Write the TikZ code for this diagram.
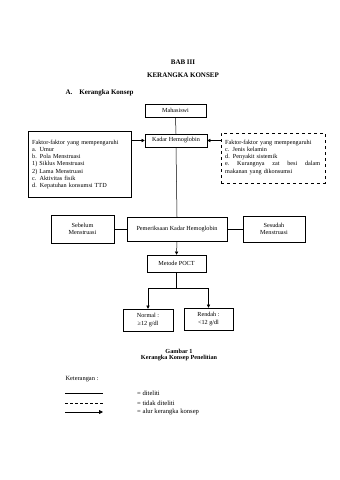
\documentclass[tikz,border=0pt]{standalone}
\usepackage{fontspec}
\setmainfont{Liberation Serif}
\usetikzlibrary{arrows.meta}
\begin{document}
\begin{tikzpicture}[x=1pt,y=-1pt,
  every node/.style={font=\fontsize{6.2}{7.3}\selectfont},
  box/.style={draw,line width=0.5pt,align=center,inner sep=0pt},
  txt/.style={anchor=north west,inner sep=0pt},
  ln/.style={line width=0.5pt},
  arr/.style={line width=0.5pt,-{Triangle[width=3.2pt,length=3.2pt]}},
  hd/.style={font=\fontsize{7}{8}\selectfont\bfseries}]
\useasboundingbox[fill=white] (0,0) rectangle (340,480);
% headings
\node[hd] (bab) at (183,62) {BAB III};
\node[hd] (kk) at (183,75) {KERANGKA KONSEP};
\node[hd,anchor=west] (sub) at (62,93) {A.\hspace{7pt}Kerangka Konsep};
% boxes
\node[box,minimum width=61pt,minimum height=13pt] (mhs) at (175.5,110.5) {Mahasiswi};
\node[box,minimum width=62pt,minimum height=13pt] (kadar) at (176,140.5) {Kadar Hemoglobin};
\node[box,minimum width=103pt,minimum height=66pt] (left) at (79.5,164) {};
\node[txt,text width=97pt,align=left] (lefttext) at (32,139.5)
  {Faktor-faktor yang mempengaruhi\\a. Umur\\b. Pola Menstruasi\\1) Siklus Menstruasi\\2) Lama Menstruasi\\c. Aktivitas fisik\\d. Kepatuhan konsumsi TTD};
\node[box,dashed,minimum width=104pt,minimum height=50pt] (right) at (273,158) {};
\node[txt,text width=95pt,align=left] (righttext) at (225,139.5)
  {Faktor-faktor yang mempengaruhi\\c. Jenis kelamin\\d. Penyakit sistemik\\e.\hfill Kurangnya\hfill zat\hfill besi\hfill dalam\\makanan yang dikonsumsi};
\node[box,minimum width=100pt,minimum height=24pt] (pem) at (177,229) {Pemeriksaan Kadar Hemoglobin};
\node[box,minimum width=63pt,minimum height=28pt] (seb) at (82.5,229) {Sebelum\\Menstruasi};
\node[box,minimum width=62pt,minimum height=26pt] (ses) at (274,229) {Sesudah\\Menstruasi};
\node[box,minimum width=59pt,minimum height=17pt] (poct) at (176.5,263.5) {Metode POCT};
\node[box,minimum width=50pt,minimum height=22pt] (normal) at (148,320) {Normal :\\≥12 g/dl};
\node[box,minimum width=49pt,minimum height=22pt] (rendah) at (208.5,319) {Rendah :\\<12 g/dl};
% connectors
\draw[ln] (mhs.south) -- (kadar.north);
\draw[arr] (left.east |- kadar.west) -- (kadar.west);
\draw[arr] (right.west |- kadar.east) -- (kadar.east);
\draw[ln] (kadar.south) -- (pem.north);
\draw[ln] (seb.east) -- (pem.west);
\draw[ln] (pem.east) -- (ses.west);
\draw[arr] (pem.south) -- (poct.north);
\coordinate (split) at (176.5,288);
\draw[ln] (poct.south) -- (split);
\draw[arr] (split) -| (normal.north);
\draw[arr] (split) -| (rendah.north);
% caption
\node[font=\fontsize{6.2}{7}\selectfont\bfseries] (g1) at (179,351) {Gambar 1};
\node[font=\fontsize{6.2}{7}\selectfont\bfseries] (g2) at (179,358) {Kerangka Konsep Penelitian};
% legend
\node[anchor=west,font=\fontsize{6.4}{7.3}\selectfont] (ket) at (62,379) {Keterangan :};
\coordinate (a1) at (65,393); \coordinate (b1) at (103,393);
\coordinate (a2) at (65,403); \coordinate (b2) at (103,403);
\coordinate (a3) at (65,412); \coordinate (b3) at (103,412);
\draw[line width=0.8pt] (a1) -- (b1);
\draw[line width=0.8pt,dash pattern=on 3pt off 2pt] (a2) -- (b2);
\draw[line width=0.8pt,-{Triangle[width=4pt,length=4pt]}] (a3) -- (b3);
\node[anchor=west,inner sep=0pt,font=\fontsize{6.6}{7.3}\selectfont] (t1) at (137,393) {= diteliti};
\node[anchor=west,inner sep=0pt,font=\fontsize{6.6}{7.3}\selectfont] (t2) at (137,403) {= tidak diteliti};
\node[anchor=west,inner sep=0pt,font=\fontsize{6.6}{7.3}\selectfont] (t3) at (137,412) {= alur kerangka konsep};
\end{tikzpicture}
\end{document}
